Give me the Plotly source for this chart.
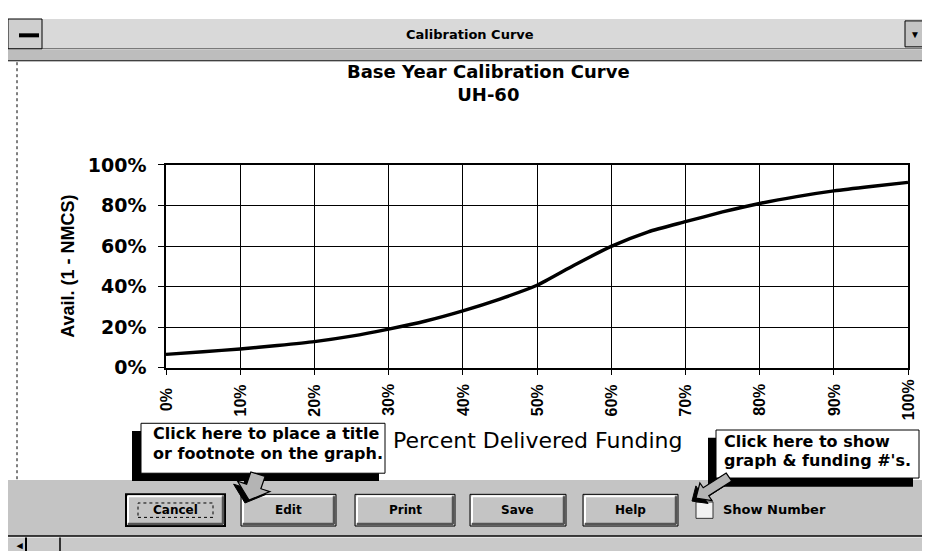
import math
import plotly.graph_objects as go

# ---------------- data ----------------
funding_pct = [0, 5, 10, 15, 20, 25, 30, 35, 40, 45, 50, 55, 60, 65, 70, 75, 80, 85, 90, 95, 100]
availability_pct = [6.5, 7.8, 9.2, 10.9, 12.8, 15.5, 19.0, 23.0, 28.0, 33.8, 40.6, 50.5, 59.8,
                    67.0, 72.0, 76.8, 81.0, 84.4, 87.2, 89.4, 91.4]
x_tick_vals = [0, 10, 20, 30, 40, 50, 60, 70, 80, 90, 100]
x_tick_text = ["0%", "10%", "20%", "30%", "40%", "50%", "60%", "70%", "80%", "90%", "100%"]
y_tick_vals = [0, 20, 40, 60, 80, 100]
y_tick_text = ["0%", "20%", "40%", "60%", "80%", "100%"]
chart_title = "Base Year Calibration Curve"
chart_subtitle = "UH-60"
x_title = "Percent Delivered Funding"
y_title = "Avail. (1 - NMCS)"
window_title = "Calibration Curve"
buttons = ["Cancel", "Edit", "Print", "Save", "Help"]
checkbox_label = "Show Number"
callout1 = ["Click here to place a title", "or footnote on the graph."]
callout2 = ["Click here to show", "graph & funding #'s."]

# ---------------- helpers ----------------
W, H = 930, 554
PL, PR, PT, PB = 158, 900, 152, 363


def px(x):
    return x / W


def py(y):
    return 1 - y / H


shapes = []
annotations = []
BOLD = "DejaVu Sans"
ARIAL = "Liberation Sans, Arial"
GRAY = "#c4c4c4"


def rect(x0, y0, x1, y1, fill, line_color=None, line_width=0, dash=None):
    shapes.append(dict(type="rect", xref="paper", yref="paper",
                       x0=px(x0), x1=px(x1), y0=py(y1), y1=py(y0),
                       fillcolor=fill,
                       line=dict(color=line_color or fill, width=line_width, dash=dash),
                       layer="above"))


def line(x0, y0, x1, y1, color="black", width=1, dash=None):
    shapes.append(dict(type="line", xref="paper", yref="paper",
                       x0=px(x0), x1=px(x1), y0=py(y0), y1=py(y1),
                       line=dict(color=color, width=width, dash=dash), layer="above"))


def text(x, y, s, size, family=BOLD, weight="bold", xanchor="center", angle=0, color="black"):
    annotations.append(dict(xref="paper", yref="paper", x=px(x), y=py(y), text=s,
                            showarrow=False, xanchor=xanchor, yanchor="middle",
                            textangle=angle,
                            font=dict(family=family, size=size, weight=weight, color=color)))


def arrow_path(tx, ty, hx, hy, shaft_w, head_w, head_len):
    dx, dy = hx - tx, hy - ty
    L = math.hypot(dx, dy)
    ux, uy = dx / L, dy / L
    nx, ny = -uy, ux
    bx, by = hx - ux * head_len, hy - uy * head_len
    pts = [
        (tx + nx * shaft_w / 2, ty + ny * shaft_w / 2),
        (bx + nx * shaft_w / 2, by + ny * shaft_w / 2),
        (bx + nx * head_w / 2, by + ny * head_w / 2),
        (hx, hy),
        (bx - nx * head_w / 2, by - ny * head_w / 2),
        (bx - nx * shaft_w / 2, by - ny * shaft_w / 2),
        (tx - nx * shaft_w / 2, ty - ny * shaft_w / 2),
    ]
    return "M " + " L ".join(f"{px(x):.5f},{py(y):.5f}" for x, y in pts) + " Z"


def arrow(tx, ty, hx, hy, shaft_w, head_w, head_len, sdx=-4, sdy=3):
    shapes.append(dict(type="path", xref="paper", yref="paper",
                       path=arrow_path(tx + sdx, ty + sdy, hx + sdx, hy + sdy, shaft_w, head_w, head_len),
                       fillcolor="black", line=dict(color="black", width=1), layer="above"))
    shapes.append(dict(type="path", xref="paper", yref="paper",
                       path=arrow_path(tx, ty, hx, hy, shaft_w, head_w, head_len),
                       fillcolor="#b4b4b4", line=dict(color="black", width=1.2), layer="above"))


def button(x0, x1, label, default=False):
    y0, y1 = 495, 528
    rect(x0, y0, x1, y1, GRAY, "black", 2 if default else 1)
    line(x0 + 2, y0 + 2, x1 - 3, y0 + 2, "white", 2)
    line(x0 + 2, y0 + 2, x0 + 2, y1 - 3, "white", 2)
    line(x0 + 2, y1 - 2, x1 - 2, y1 - 2, "#555555", 2.5)
    line(x1 - 2, y0 + 2, x1 - 2, y1 - 2, "#555555", 2.5)
    text((x0 + x1) / 2, (y0 + y1) / 2, label, 12)
    if default:
        rect(x0 + 12, y0 + 9, x1 - 12, y1 - 9, "rgba(0,0,0,0)", "black", 1, "dot")


# ---------------- window chrome ----------------
# title bar
rect(0, 0, W, 31, "#d9d9d9")
line(0, 31, W, 31, "#555555", 1)
rect(0, 32, W, 43, "#bdbdbd")
line(0, 43.5, W, 43.5, "black", 1)
rect(0, 0, 34, 31, "#cfcfcf", "black", 1)
line(11, 17, 31, 17, "black", 4)
text(462, 16, window_title, 13)
rect(897, 2, 917, 29, GRAY, "black", 1)
text(907, 16, "▼", 10, family=ARIAL)
rect(920, 2, 932, 29, GRAY, "black", 1)

# dotted client frame
line(9, 45, 9, 480, "black", 1, "dot")
line(921, 45, 921, 480, "black", 1, "dot")

# bottom button band
rect(0, 480, W, 538, GRAY)
line(0, 538.5, W, 538.5, "black", 1.5)
rect(0, 540, W, H, "#c9c9c9")
text(6, 548, "◂", 11, family=ARIAL, xanchor="left")
line(18, 540, 18, H, "black", 2)
line(52, 540, 52, H, "black", 1.5)
line(918, 540, 918, H, "black", 1.5)

xs = [(118, 217), (233, 328), (347, 447), (462, 558), (575, 670)]
for (a, b), lab in zip(xs, buttons):
    button(a, b, lab, default=(lab == "Cancel"))

# checkbox
rect(688, 503, 705, 520, "#f2f2f2", "#333333", 1)
text(713, 511, checkbox_label, 13, xanchor="left")

# callout 1
rect(124, 429, 371, 481, "black")
rect(133, 421, 377, 473, "white", "black", 1)
text(143, 432, callout1[0], 16, xanchor="left")
text(143, 452, callout1[1], 16, xanchor="left")
arrow(250, 474, 241, 501, 15, 34, 15)

# callout 2
rect(700, 436, 905, 487, "black")
rect(708, 428, 911, 478, "white", "black", 1)
text(714, 440, callout2[0], 16, xanchor="left")
text(714, 460, callout2[1], 16, xanchor="left")
arrow(721, 477, 688, 499, 10, 22, 12)

# ---------------- chart texts ----------------
text(480, 67, chart_title + "<br>" + chart_subtitle, 18)
text(60, 258, y_title, 18, family=ARIAL, angle=-90)
text((PL + PR) / 2, 439, x_title, 22, family="DejaVu Sans", weight="normal")
for v, t in zip(x_tick_vals, x_tick_text):
    text(PL + (PR - PL) * v / 100, 397, t, 16, family=ARIAL, angle=-90)

# ---------------- figure ----------------
fig = go.Figure()
fig.add_trace(go.Scatter(x=funding_pct, y=availability_pct, mode="lines",
                         line=dict(color="black", width=3.4, shape="spline", smoothing=0.6),
                         hoverinfo="skip", showlegend=False))

fig.update_layout(
    width=W, height=H,
    margin=dict(l=0, r=0, t=0, b=0),
    paper_bgcolor="white", plot_bgcolor="white",
    showlegend=False,
    xaxis=dict(domain=[px(PL), px(PR)], range=[0, 100], tickvals=x_tick_vals,
               showticklabels=False, ticks="outside", ticklen=6, tickcolor="black",
               showgrid=True, gridcolor="black", gridwidth=1,
               showline=True, linecolor="black", linewidth=1.5, mirror=True,
               zeroline=False, fixedrange=True),
    yaxis=dict(domain=[py(PB), py(PT)], range=[0, 100], tickvals=y_tick_vals,
               ticktext=y_tick_text, ticks="outside", ticklen=6, tickcolor="black",
               tickfont=dict(family=BOLD, size=19, weight="bold", color="black"),
               showgrid=True, gridcolor="black", gridwidth=1,
               showline=True, linecolor="black", linewidth=1.5, mirror=True,
               zeroline=False, fixedrange=True, ticklabelstandoff=8),
    shapes=shapes,
    annotations=annotations,
)

fig.write_html("out.html", config={"displayModeBar": False})
